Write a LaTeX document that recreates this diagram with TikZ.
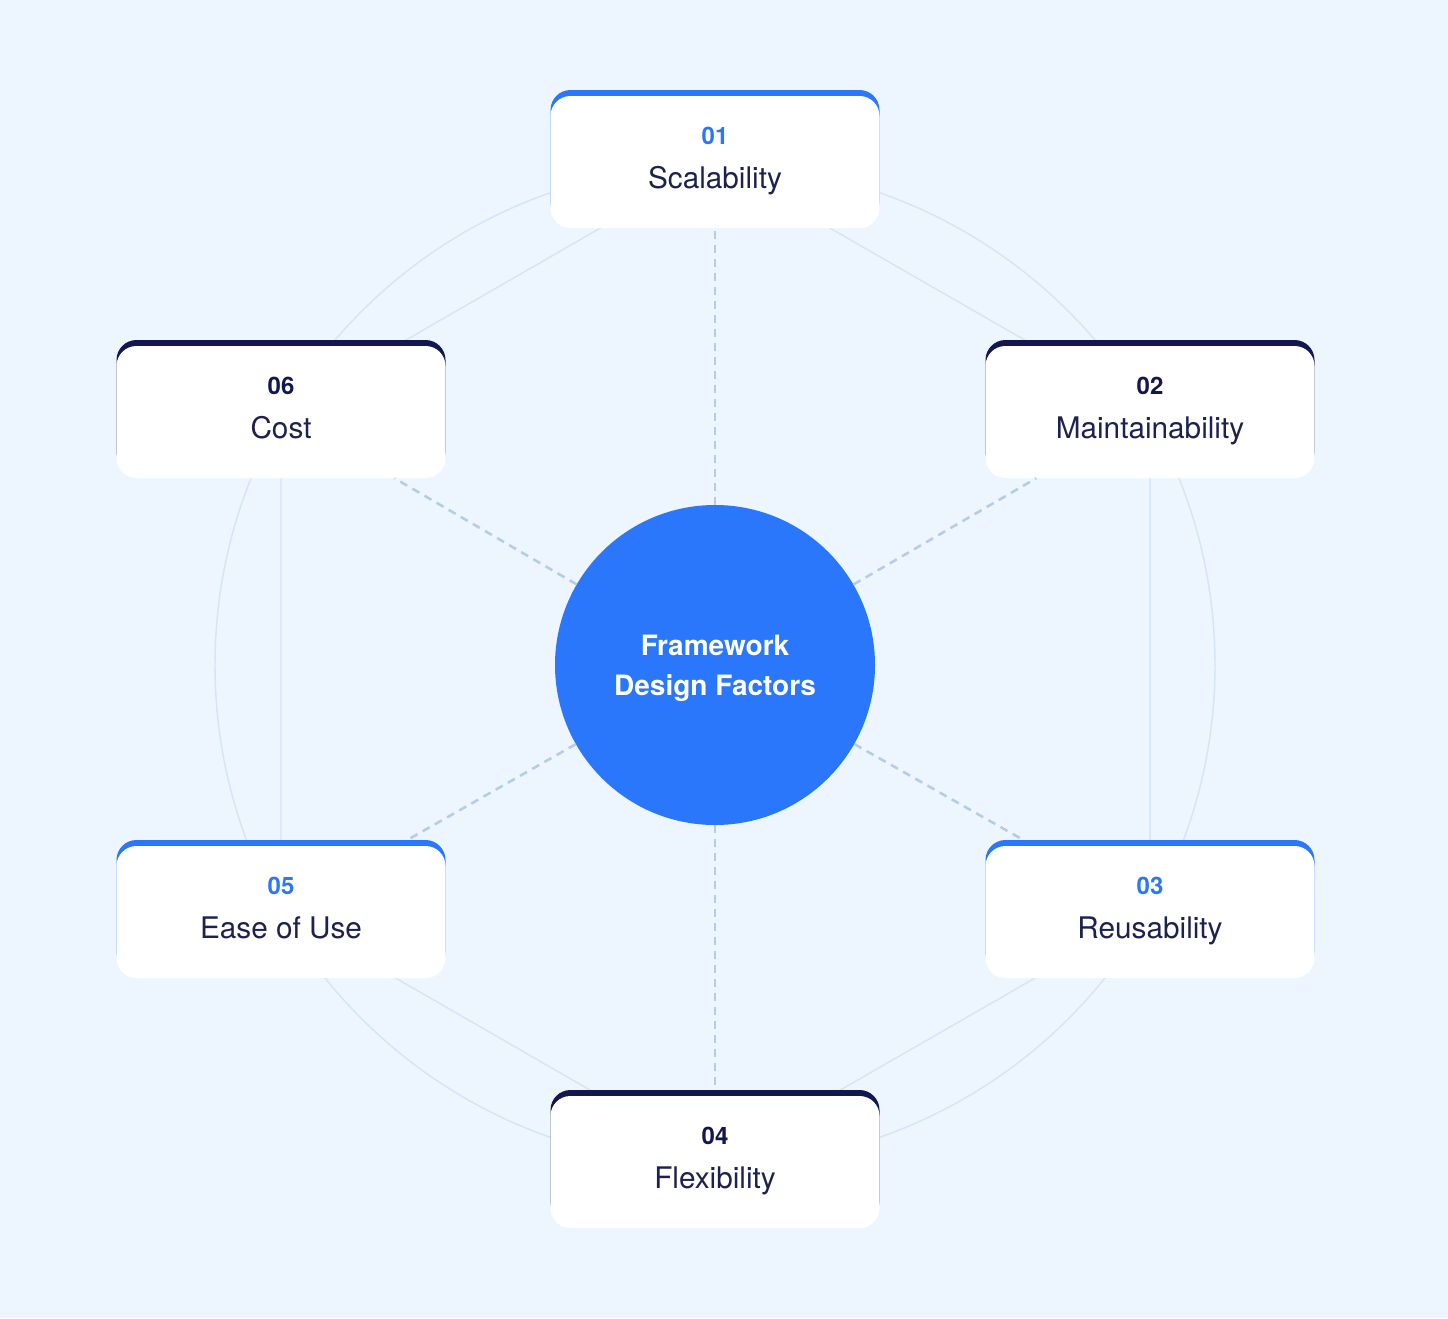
\documentclass[tikz,border=0pt]{standalone}
\usepackage{fontspec}
\setmainfont{TeX Gyre Heros}
\usepackage{xcolor}
\usetikzlibrary{calc}
\definecolor{pagebg}{HTML}{EDF6FE}
\definecolor{hubblue}{HTML}{2B77FB}
\definecolor{darknavy}{HTML}{12174F}
\definecolor{labelnavy}{HTML}{1C2150}
\definecolor{ringline}{HTML}{D5E5F7}
\definecolor{spokeline}{HTML}{B5CBEC}

\tikzset{
  card/.style={rectangle, rounded corners=15pt, fill=white, draw=none,
    minimum width=246.75pt, minimum height=99pt, inner sep=0pt,
    preaction={fill=#1, transform canvas={yshift=4.5pt}}},
  numtxt/.style={anchor=base, inner sep=0pt, font=\bfseries\fontsize{18}{20}\selectfont},
  labeltxt/.style={anchor=base, inner sep=0pt, text=labelnavy, font=\fontsize{22.3}{26}\selectfont},
  hub/.style={circle, fill=hubblue, minimum size=240pt, inner sep=0pt},
  hubtxt/.style={inner sep=0pt, text=white, align=center,
    font=\bfseries\fontsize{21}{29.5}\selectfont},
  ring/.style={ringline, line width=1.1pt},
  spoke/.style={spokeline, line width=1.9pt, dash pattern=on 6pt off 4.5pt}
}

\begin{document}
\begin{tikzpicture}[x=0.75pt,y=-0.75pt]
  % Hintergrund
  \fill[pagebg] (0,0) rectangle (1448,1318);

  % Lage der sechs Karten
  \coordinate (p1) at (715,162);
  \coordinate (p2) at (1150,412);
  \coordinate (p3) at (1150,912);
  \coordinate (p4) at (715,1162);
  \coordinate (p5) at (281,912);
  \coordinate (p6) at (281,412);

  % Ring und Sechseck
  \draw[ring] (715,665) circle[radius=375pt];
  \draw[ring] (p1) -- (p2) -- (p3) -- (p4) -- (p5) -- (p6) -- cycle;

  % Mitte
  \node[hub] (hub) at (715,665) {};
  \node[hubtxt] (title) at ([yshift=-2.5pt]hub.center) {Framework\\Design Factors};

  % Karte 01
  \node[card=hubblue] (b1) at (p1) {};
  \node[numtxt,text=hubblue] (n1) at ([yshift=13.5pt]b1.center) {01};
  \node[labeltxt] (l1) at ([yshift=-20pt]b1.center) {Scalability};

  % Karte 02
  \node[card=darknavy] (b2) at (p2) {};
  \node[numtxt,text=darknavy] (n2) at ([yshift=13.5pt]b2.center) {02};
  \node[labeltxt] (l2) at ([yshift=-20pt]b2.center) {Maintainability};

  % Karte 03
  \node[card=hubblue] (b3) at (p3) {};
  \node[numtxt,text=hubblue] (n3) at ([yshift=13.5pt]b3.center) {03};
  \node[labeltxt] (l3) at ([yshift=-20pt]b3.center) {Reusability};

  % Karte 04
  \node[card=darknavy] (b4) at (p4) {};
  \node[numtxt,text=darknavy] (n4) at ([yshift=13.5pt]b4.center) {04};
  \node[labeltxt] (l4) at ([yshift=-20pt]b4.center) {Flexibility};

  % Karte 05
  \node[card=hubblue] (b5) at (p5) {};
  \node[numtxt,text=hubblue] (n5) at ([yshift=13.5pt]b5.center) {05};
  \node[labeltxt] (l5) at ([yshift=-20pt]b5.center) {Ease of Use};

  % Karte 06
  \node[card=darknavy] (b6) at (p6) {};
  \node[numtxt,text=darknavy] (n6) at ([yshift=13.5pt]b6.center) {06};
  \node[labeltxt] (l6) at ([yshift=-20pt]b6.center) {Cost};

  % Speichen (unten kuerzer, damit sie vor dem Farbrand enden)
  \draw[spoke] (hub) -- (b1);
  \draw[spoke] (hub) -- (b2);
  \draw[spoke,shorten >=10pt] (hub) -- (b3);
  \draw[spoke,shorten >=6pt] (hub) -- (b4);
  \draw[spoke,shorten >=10pt] (hub) -- (b5);
  \draw[spoke] (hub) -- (b6);
\end{tikzpicture}
\end{document}
